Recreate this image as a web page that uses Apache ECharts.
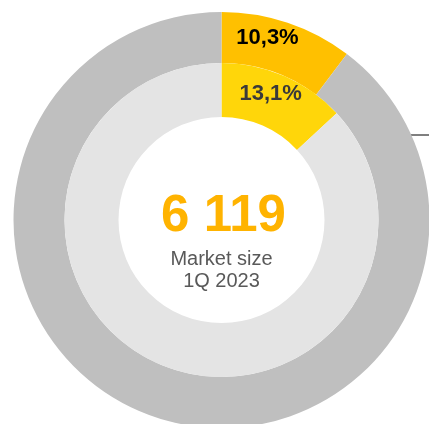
<!DOCTYPE html>
<html>
<head>
<meta charset="utf-8">
<script src="https://cdn.jsdelivr.net/npm/echarts@6/dist/echarts.min.js"></script>
<style>
  html, body { margin: 0; padding: 0; background: #ffffff; }
  #chart { width: 429px; height: 424px; }
</style>
</head>
<body>
<div id="chart"></div>
<script>
// Segment names and shares (%) of the two rings
const segmentNames = ['Share', 'Rest of market'];
const outerShares = [10.3, 89.7];
const innerShares = [13.1, 86.9];

// Centre caption
const marketSize = '6 119';
const captionLines = ['Market size', '1Q 2023'];

const outerColors = ['#FFC000', '#BFBFBF'];
const innerColors = ['#FFD60A', '#E4E4E4'];

const fmtPct = v => v.toFixed(1).replace('.', ',') + '%';

function ringData(values, colors, labelColor, offset) {
  return values.map((v, i) => ({
    name: segmentNames[i],
    value: v,
    itemStyle: { color: colors[i] },
    label: i === 0 ? {
      show: true,
      position: 'inside',
      formatter: p => fmtPct(p.value),
      color: labelColor,
      fontFamily: 'Liberation Sans, Arial, sans-serif',
      fontWeight: 'bold',
      fontSize: 22,
      offset: offset
    } : { show: false }
  }));
}

const chart = echarts.init(document.getElementById('chart'), null, { renderer: 'canvas' });

const cx = 221.5, cy = 220;

chart.setOption({
  animation: false,
  series: [
    {
      type: 'pie',
      silent: true,
      center: [cx, cy],
      radius: [157, 208],
      startAngle: 90,
      clockwise: true,
      labelLine: { show: false },
      data: ringData(outerShares, outerColors, '#000000', [-13, -6])
    },
    {
      type: 'pie',
      silent: true,
      center: [cx, cy],
      radius: [103, 157],
      startAngle: 90,
      clockwise: true,
      labelLine: { show: false },
      data: ringData(innerShares, innerColors, '#3A3A3A', [-4, -4])
    }
  ],
  graphic: [
    {
      type: 'text',
      x: cx + 2, y: 217,
      style: {
        text: marketSize,
        fill: '#FFB300',
        font: 'bold 51px "Liberation Sans", Arial, sans-serif',
        textAlign: 'center',
        textVerticalAlign: 'middle'
      }
    },
    {
      type: 'text',
      x: cx, y: 270,
      style: {
        text: captionLines.join('\n'),
        fill: '#595959',
        font: '20px "Liberation Sans", Arial, sans-serif',
        lineHeight: 22,
        textAlign: 'center',
        textVerticalAlign: 'middle'
      }
    },
    {
      type: 'line',
      shape: { x1: 411, y1: 135, x2: 429, y2: 135 },
      style: { stroke: '#000000', lineWidth: 1 }
    }
  ]
});
</script>
</body>
</html>
